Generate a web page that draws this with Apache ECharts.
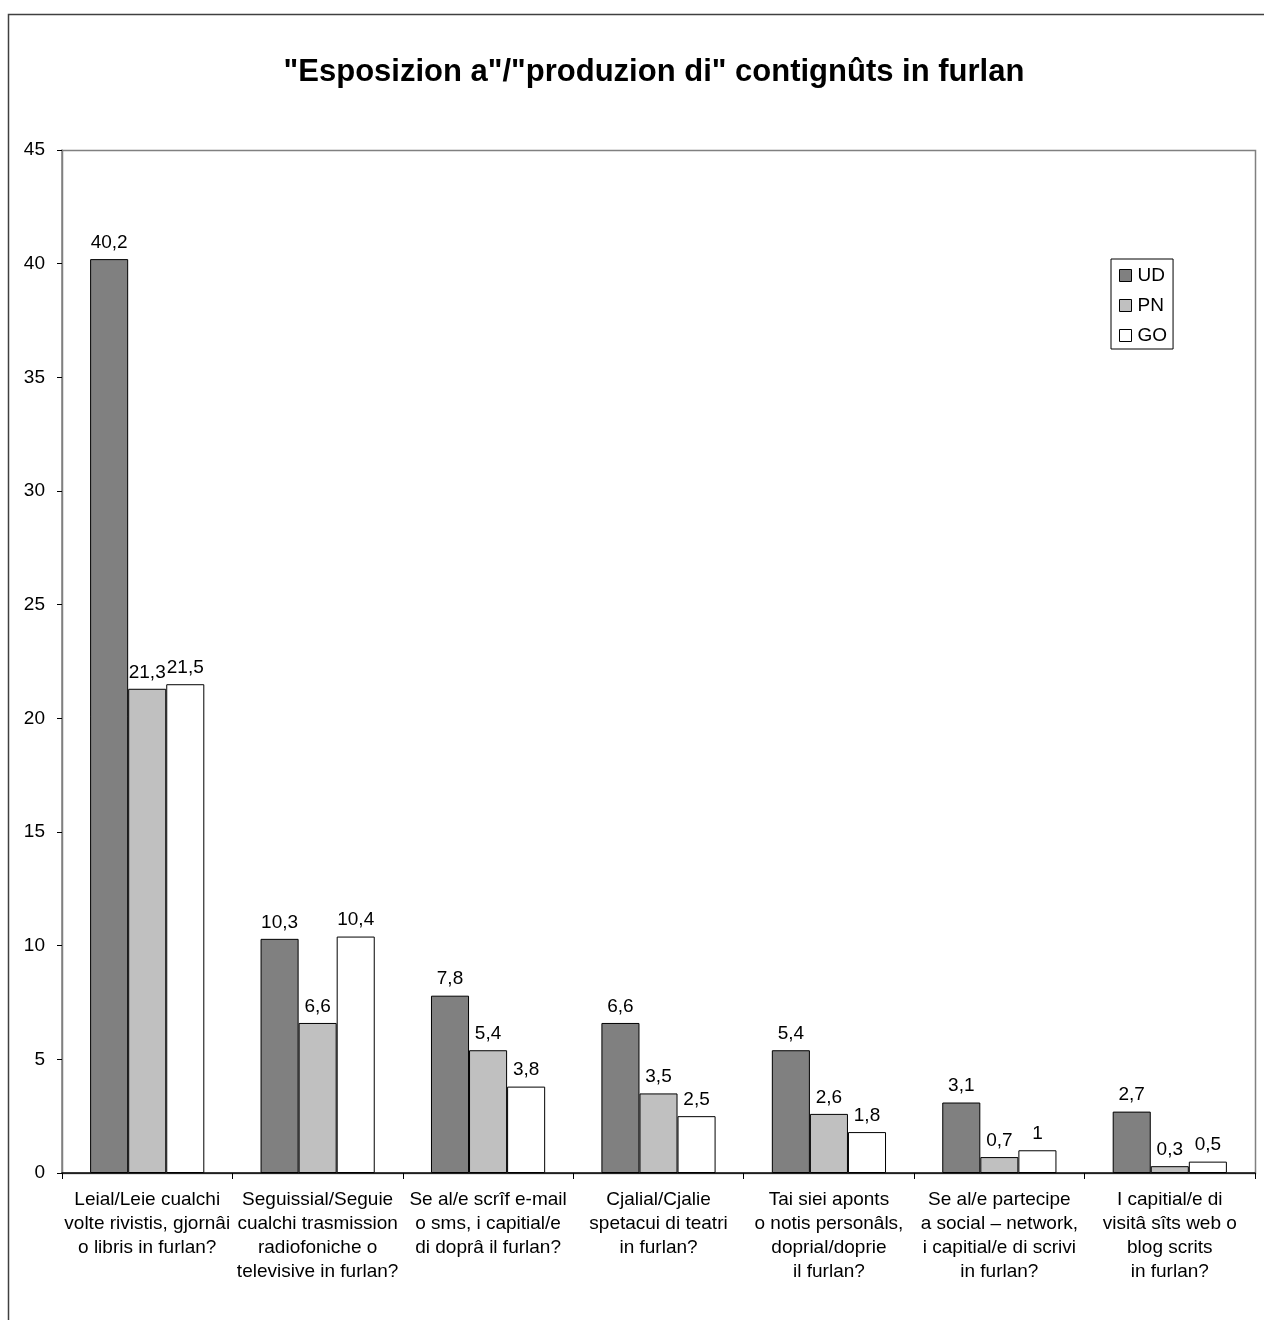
<!DOCTYPE html>
<html>
<head>
<meta charset="utf-8">
<script src="https://cdn.jsdelivr.net/npm/echarts@6/dist/echarts.min.js"></script>
<style>
  html, body { margin: 0; padding: 0; background: #fff; }
  #chart { width: 1264px; height: 1320px; }
</style>
</head>
<body>
<div id="chart"></div>
<script>
const titleText = '"Esposizion a"/"produzion di" contignûts in furlan';

const categories = [
  'Leial/Leie cualchi\nvolte rivistis, gjornâi\no libris in furlan?',
  'Seguissial/Seguie\ncualchi trasmission\nradiofoniche o\ntelevisive in furlan?',
  'Se al/e scrîf e-mail\no sms, i capitial/e\ndi doprâ il furlan?',
  'Cjalial/Cjalie\nspetacui di teatri\nin furlan?',
  'Tai siei aponts\no notis personâls,\ndoprial/doprie\nil furlan?',
  'Se al/e partecipe\na social – network,\ni capitial/e di scrivi\nin furlan?',
  'I capitial/e di\nvisitâ sîts web o\nblog scrits\nin furlan?'
];

const seriesNames = ['UD', 'PN', 'GO'];
const udValues = [40.2, 10.3, 7.8, 6.6, 5.4, 3.1, 2.7];
const pnValues = [21.3, 6.6, 5.4, 3.5, 2.6, 0.7, 0.3];
const goValues = [21.5, 10.4, 3.8, 2.5, 1.8, 1.0, 0.5];

const yMin = 0, yMax = 45, yStep = 5;

const fontFamily = 'Liberation Sans, Arial, sans-serif';
const barColors = ['#808080', '#c0c0c0', '#ffffff'];
const allValues = [udValues, pnValues, goValues];

const chart = echarts.init(document.getElementById('chart'), null, { renderer: 'canvas' });

// decimal comma, as in the Friulian/Italian locale
const labelFmt = p => String(p.value).replace('.', ',');

const option = {
  animation: false,
  backgroundColor: '#ffffff',
  textStyle: { fontFamily: fontFamily },
  title: {
    text: titleText,
    left: 649,
    textAlign: 'center',
    top: 52,
    textStyle: { fontFamily: fontFamily, fontSize: 31, fontWeight: 'bold', color: '#000' }
  },
  graphic: [
    {
      type: 'rect',
      shape: { x: 8.5, y: 14.5, width: 1400, height: 1400 },
      style: { fill: null, stroke: '#404040', lineWidth: 1.5 },
      silent: true,
      z: 100
    },
    {
      type: 'rect',
      shape: { x: 62.5, y: 150.5, width: 1193, height: 1023 },
      style: { fill: null, stroke: '#808080', lineWidth: 1.5 },
      silent: true,
      z: 0
    }
  ],
  legend: {
    orient: 'vertical',
    left: 1111,
    top: 259,
    data: seriesNames,
    itemWidth: 12,
    itemHeight: 12,
    itemGap: 11,
    padding: [7, 6, 4, 8],
    borderColor: '#000',
    borderWidth: 1,
    icon: 'rect',
    itemStyle: { borderColor: '#000', borderWidth: 1 },
    textStyle: { fontFamily: fontFamily, fontSize: 19, lineHeight: 19, color: '#000', padding: [0, 0, 0, 1] }
  },
  grid: {
    left: 62,
    right: 9,
    top: 150,
    bottom: 147,
    containLabel: false
  },
  xAxis: {
    type: 'category',
    data: categories,
    axisLine: { show: true, lineStyle: { color: '#000', width: 1.5 } },
    axisTick: { show: true, length: 6, alignWithLabel: false, lineStyle: { color: '#000' } },
    axisLabel: {
      interval: 0,
      margin: 15,
      fontSize: 19,
      lineHeight: 24,
      color: '#000',
      fontFamily: fontFamily
    },
    splitLine: { show: false }
  },
  yAxis: {
    type: 'value',
    min: yMin,
    max: yMax,
    interval: yStep,
    axisLine: { show: true, lineStyle: { color: '#808080', width: 1.5 } },
    axisTick: { show: true, inside: false, length: 5, lineStyle: { color: '#000' } },
    axisLabel: { fontSize: 19, color: '#000', margin: 17, fontFamily: fontFamily },
    splitLine: { show: false }
  },
  series: seriesNames.map((name, i) => ({
    name: name,
    type: 'bar',
    data: allValues[i],
    barGap: '0%',
    barCategoryGap: '33%',
    itemStyle: { color: barColors[i], borderColor: '#000', borderWidth: 1 },
    label: {
      show: true,
      position: 'top',
      distance: 7,
      fontSize: 19,
      color: '#000',
      fontFamily: fontFamily,
      formatter: labelFmt
    }
  }))
};

chart.setOption(option);
</script>
</body>
</html>
